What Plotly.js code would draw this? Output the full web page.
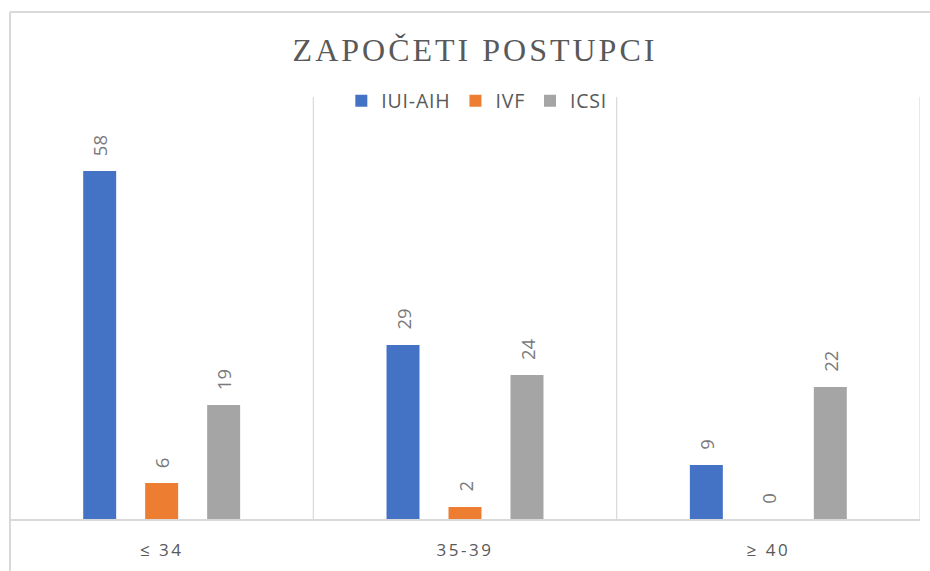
<!DOCTYPE html>
<html>
<head>
<meta charset="utf-8">
<script src="https://cdn.plot.ly/plotly-3.0.1.min.js"></script>
<style>
  html, body { margin: 0; padding: 0; background: #fff; }
  #chart { width: 930px; height: 571px; }
  .gtitle { letter-spacing: 3px; }
  .xtick text { letter-spacing: 2.5px; }
  .legendtext { letter-spacing: 0.8px; }
</style>
</head>
<body>
<div id="chart"></div>
<script>
const categories = ["\u2264 34", "35-39", "\u2265 40"];
const seriesNames = ["IUI-AIH", "IVF", "ICSI"];
const iuiAih = [58, 29, 9];
const ivf = [6, 2, 0];
const icsi = [19, 24, 22];
const colors = ["#4472C4", "#ED7D31", "#A5A5A5"];

const allSeries = [iuiAih, ivf, icsi];
const traces = allSeries.map((vals, i) => ({
  type: "bar",
  name: seriesNames[i],
  x: categories,
  y: vals,
  marker: { color: colors[i] },
  hoverinfo: "x+y+name"
}));

const offsets = [-62, 0, 62];
const annotations = [];
allSeries.forEach((vals, i) => {
  vals.forEach((v, j) => {
    annotations.push({
      x: categories[j], y: v, xref: "x", yref: "y",
      text: String(v), showarrow: false, textangle: -90,
      xanchor: "center", yanchor: "bottom", xshift: offsets[i], yshift: 13,
      font: { family: "Open Sans, sans-serif", size: 18.5, color: "#7a7a7a" }
    });
  });
});

const grid = "#d9d9d9";
const shapes = [];
[-0.5, 0.5, 1.5, 2.5].forEach(b => {
  shapes.push({ type: "line", xref: "x", yref: "paper", x0: b, x1: b, y0: 0, y1: 1.005,
    line: { color: grid, width: 1.2 }, layer: "below" });
});
// outer frame
shapes.push({ type: "line", xref: "paper", yref: "paper", x0: 0, x1: 1.02, y0: 1.2071, y1: 1.2071,
  line: { color: grid, width: 2 } });
shapes.push({ type: "line", xref: "paper", yref: "paper", x0: 0, x1: 0, y0: 1.2071, y1: -0.13,
  line: { color: grid, width: 2 } });

const layout = {
  width: 930, height: 571,
  margin: { l: 10, r: 10, t: 99, b: 52 },
  paper_bgcolor: "#ffffff", plot_bgcolor: "#ffffff",
  title: {
    text: "ZAPOČETI POSTUPCI",
    font: { family: "Liberation Serif, serif", size: 32, color: "#595959" },
    x: 0.511, xanchor: "center", xref: "paper",
    y: 1 - 50 / 571, yanchor: "middle", yref: "container"
  },
  barmode: "group",
  bargap: 0.387,
  bargroupgap: 0.468,
  showlegend: true,
  legend: {
    orientation: "h", x: 0.513, xanchor: "center", y: 0.995, yanchor: "middle",
    font: { family: "Open Sans, sans-serif", size: 19.5, color: "#595959" },
    bgcolor: "rgba(0,0,0,0)", itemclick: false
  },
  xaxis: {
    type: "category", range: [-0.5, 2.5], showgrid: false, zeroline: false,
    showline: true, linecolor: grid, linewidth: 1.5, ticks: "",
    ticklabelstandoff: 15,
    tickfont: { family: "Open Sans, sans-serif", size: 17, color: "#595959" },
    fixedrange: true
  },
  yaxis: {
    range: [0, 70], showgrid: false, zeroline: false, showline: false,
    showticklabels: false, ticks: "", fixedrange: true
  },
  annotations: annotations,
  shapes: shapes
};

Plotly.newPlot("chart", traces, layout, { displayModeBar: false, staticPlot: false });
</script>
</body>
</html>
